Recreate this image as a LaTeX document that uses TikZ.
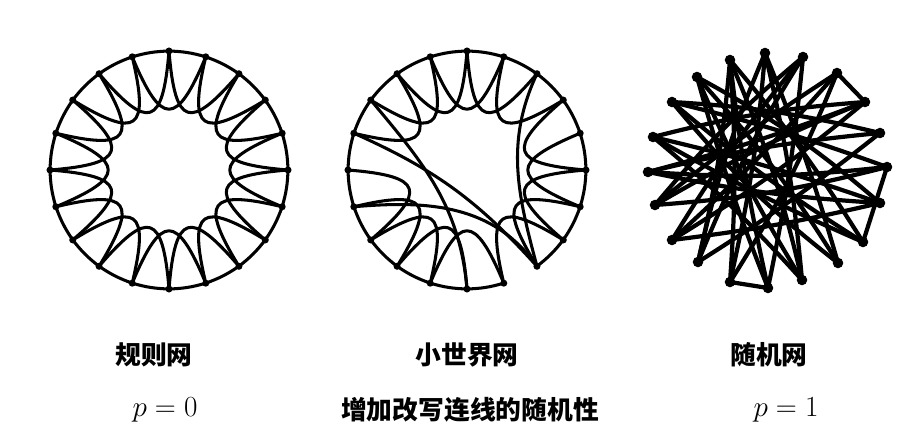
\documentclass[tikz,border=0pt]{standalone}
\usepackage{fontspec}
\newfontfamily\cjk{Noto Sans CJK SC}
\definecolor{netInk}{HTML}{000000}
\tikzset{
  ring link/.style={draw=netInk, line width=2.6pt, line join=round, line cap=round},
  rand link/.style={draw=netInk, line width=3.6pt, line cap=round},
  ring dot/.style={circle, fill=netInk, inner sep=0pt, minimum size=6pt},
  rand dot/.style={circle, fill=netInk, inner sep=0pt, minimum size=9pt},
  net label/.style={font=\cjk\bfseries\fontsize{22}{26}\selectfont},
  p label/.style={font=\fontsize{24}{28}\selectfont}
}
% 20 nodes on a ring, names #1 0..19, clockwise from the top
\newcommand{\ringdots}[1]{%
  \foreach \i in {0,...,19}
    \node[ring dot] (#1\i) at ({90-18*\i}:119) {};%
}
% link to the next node on the ring
\newcommand{\outerlink}[2]{%
  \pgfmathtruncatemacro{\nxt}{mod(#2+1,20)}%
  \draw[ring link] (#1#2.center) to[bend left=7] (#1\nxt.center);%
}
% link to the second next node, dipping to the inside
\newcommand{\innerlink}[2]{%
  \pgfmathtruncatemacro{\nxt}{mod(#2+2,20)}%
  \draw[ring link] (#1#2.center)
    .. controls ({82-18*#2}:44) and ({62-18*#2}:44) .. (#1\nxt.center);%
}

\begin{document}
\begin{tikzpicture}[x=0.03cm, y=0.03cm]
\useasboundingbox (0,0) rectangle (897,437);

% Regular network, p = 0
\begin{scope}[shift={(169,267)}]
  \ringdots{r}
  \foreach \i in {0,...,19} {\outerlink{r}{\i}\innerlink{r}{\i}}
\end{scope}

% Small-world network: a few links rewired
\begin{scope}[shift={(467,267)}]
  \ringdots{s}
  \foreach \i in {0,1,2,3,4,5,6,7,9,10,11,12,13,14,15,16,17,18,19}
    {\outerlink{s}{\i}}
  \foreach \i in {0,1,3,4,5,6,7,9,10,11,12,13,16,17,18,19}
    {\innerlink{s}{\i}}
  \draw[ring link] (s16.center) to[bend left=12] (s8.center);
  \draw[ring link] (s14.center) to[out=5, in=125] (s8.center);
  \draw[ring link] (s2.center) to[out=-115, in=105] (s8.center);
  \draw[ring link] (s17.center) to[out=-50, in=95] (s10.center);
\end{scope}

% Random network, p = 1
\foreach \n/\x/\y in {0/765/384, 1/803/380, 2/837/364, 3/865/335, 4/880/304,
    5/887/270, 6/880/234, 7/863/195, 8/838/174, 9/802/157, 10/768/149,
    11/730/155, 12/698/175, 13/672/197, 14/655/232, 15/648/265, 16/653/300,
    17/672/335, 18/697/360, 19/730/377}
  \node[rand dot] (q\n) at (\x,\y) {};
\foreach \a/\b/\c in {0/9/4, 0/12/-5, 1/10/3, 1/13/-4, 2/11/5, 2/14/-3,
    3/13/4, 3/16/-5, 4/12/3, 4/15/-4, 5/14/5, 5/17/-3, 6/15/4, 6/18/-6,
    7/16/3, 7/19/-4, 8/17/6, 8/0/-3, 9/18/4, 9/19/-5, 10/18/3, 11/19/-4,
    12/1/5, 13/2/-3, 14/3/4, 15/5/-5, 16/6/3, 17/7/-4, 18/8/5, 19/10/-3,
    2/3/0, 5/7/0, 10/11/0, 0/11/4, 4/17/-5, 6/13/3, 12/19/-4, 14/1/5,
    15/3/-3, 16/9/4}
  \draw[rand link] (q\a.center) to[bend left=\c] (q\b.center);

% captions
\node[net label] (regname) at (154,82) {规则网};
\node[net label] (swname) at (467,82) {小世界网};
\node[net label] (randname) at (769,82) {随机网};
\node[p label] (pzero) at (165,27) {$p=0$};
\node[net label] (trend) at (470,27) {增加改写连线的随机性};
\node[p label] (pone) at (786,27) {$p=1$};

\end{tikzpicture}
\end{document}
